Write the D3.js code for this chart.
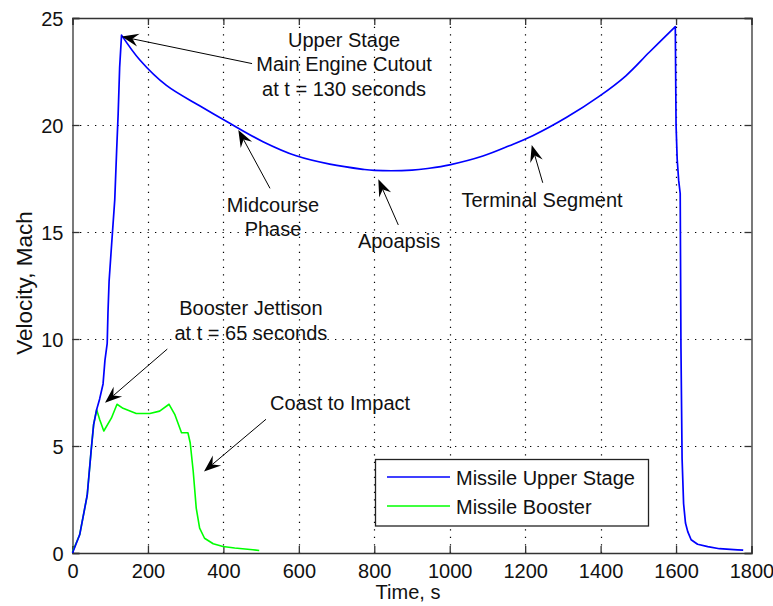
<!DOCTYPE html>
<html>
<head>
<meta charset="utf-8">
<script src="https://cdn.jsdelivr.net/npm/d3@7/dist/d3.min.js"></script>
<style>
  html, body { margin: 0; padding: 0; background: #fff; }
  svg { display: block; font-family: "Liberation Sans", Arial, Helvetica, sans-serif; }
</style>
</head>
<body>
<svg id="chart" width="773" height="606"></svg>
<script>
// ---------- data ----------
// Missile upper stage: powered ascent, coast arc (after cutout at 130 s), re-entry drop
const upperTime = [0, 19, 39, 50, 56, 64, 72, 81, 86, 92, 94, 97, 104, 112, 117, 121, 125, 130,
  178, 249, 337, 417, 505, 593, 682, 770, 800, 900, 946, 1000, 1088, 1158, 1220, 1309, 1397,
  1467, 1529, 1598, 1600, 1603, 1607, 1611, 1613, 1616, 1620, 1625, 1631, 1640, 1657, 1684,
  1715, 1763, 1778];
const upperVel = [0, 0.85, 2.7, 4.9, 6.0, 6.7, 7.2, 7.9, 9.0, 9.8, 11.2, 12.7, 14.5, 16.5, 18.8,
  20.5, 22.7, 24.2, 23.05, 21.85, 20.9, 20.08, 19.22, 18.56, 18.17, 17.93, 17.88, 17.89, 17.98,
  18.14, 18.55, 19.03, 19.5, 20.35, 21.35, 22.3, 23.4, 24.6, 20.0, 18.4, 17.4, 16.8, 9.6, 4.4,
  2.3, 1.4, 1.0, 0.62, 0.41, 0.3, 0.2, 0.15, 0.13];
const cutoutTime = 130;
const reentryTime = 1598;

const boosterTime = [0, 19, 39, 50, 56, 64, 72, 83, 103, 118, 134, 169, 205, 231, 256, 271, 289,
  306, 312, 320, 328, 337, 350, 373, 399, 430, 478, 495];
const boosterVel = [0.05, 0.85, 2.7, 4.9, 6.0, 6.7, 6.24, 5.7, 6.3, 6.95, 6.76, 6.52, 6.52, 6.63,
  6.95, 6.48, 5.62, 5.62, 5.15, 3.82, 2.1, 1.16, 0.69, 0.43, 0.3, 0.23, 0.15, 0.12];

const xTicks = [0, 200, 400, 600, 800, 1000, 1200, 1400, 1600, 1800];
const yTicks = [0, 5, 10, 15, 20, 25];

const seriesNames = ["Missile Upper Stage", "Missile Booster"];
const seriesColors = ["#0000ff", "#00ff00"];

// annotation: text lines, text anchor (t, v), arrow tail (t, v), arrow tip (t, v)
const annoText = [
  ["Upper Stage", "Main Engine Cutout", "at t = 130 seconds"],
  ["Midcourse", "Phase"],
  ["Apoapsis"],
  ["Terminal Segment"],
  ["Booster Jettison", "at t = 65 seconds"],
  ["Coast to Impact"]
];
const annoTextPos = [[720, 23.66], [531.5, 15.95], [865.6, 14.25], [1244.7, 16.18], [473, 11.12], [523.6, 6.68]];
const annoAlign = ["middle", "middle", "middle", "middle", "middle", "start"];
const annoTail = [[476, 22.87], [523.6, 17.04], [863.7, 15.33], [1246.6, 17.3], [251.3, 9.53], [513, 6.25]];
const annoTip = [[130.4, 24.13], [439.6, 19.77], [810.7, 17.46], [1217.4, 19.07], [86.2, 7.02], [348.6, 3.81]];

// ---------- layout ----------
const svg = d3.select("#chart");
const L = 72.5, R = 751.5, T = 18, B = 553;
const x = d3.scaleLinear().domain([0, 1800]).range([L, R]);
const y = d3.scaleLinear().domain([0, 25]).range([B, T]);
const FS = 20;

svg.append("rect").attr("width", 773).attr("height", 606).attr("fill", "#fff");

// grid
const grid = svg.append("g").attr("stroke", "#000").attr("stroke-width", 1.2)
  .attr("stroke-dasharray", "1.3,6.2").attr("fill", "none");
xTicks.filter(d => d > 0 && d < 1800).forEach(d => {
  grid.append("line").attr("x1", Math.round(x(d)) + 0.5).attr("x2", Math.round(x(d)) + 0.5)
    .attr("y1", B).attr("y2", T);
});
yTicks.filter(d => d > 0 && d < 25).forEach(d => {
  grid.append("line").attr("y1", Math.round(y(d)) + 0.5).attr("y2", Math.round(y(d)) + 0.5)
    .attr("x1", L).attr("x2", R);
});

// axes (inward ticks on all sides, MATLAB box)
const tickLen = 7;
const axB = svg.append("g").attr("transform", `translate(0,${B})`)
  .call(d3.axisBottom(x).tickValues(xTicks).tickSize(-tickLen).tickPadding(11).tickFormat(d3.format("d")));
const axT = svg.append("g").attr("transform", `translate(0,${T})`)
  .call(d3.axisTop(x).tickValues(xTicks).tickSize(-tickLen).tickFormat(""));
const axL = svg.append("g").attr("transform", `translate(${L},0)`)
  .call(d3.axisLeft(y).tickValues(yTicks).tickSize(-tickLen).tickPadding(9).tickFormat(d3.format("d")));
const axR = svg.append("g").attr("transform", `translate(${R},0)`)
  .call(d3.axisRight(y).tickValues(yTicks).tickSize(-tickLen).tickFormat(""));
[axB, axT, axL, axR].forEach(a => {
  a.select(".domain").attr("stroke", "#333").attr("stroke-width", 1.3);
  a.selectAll(".tick line").attr("stroke", "#333").attr("stroke-width", 1.3);
  a.selectAll("text").attr("font-size", FS).attr("fill", "#111")
    .attr("font-family", "'Liberation Sans', Arial, sans-serif");
});
axL.selectAll("text").attr("dy", "0.36em");

// axis labels
svg.append("text").attr("x", (L + R) / 2 - 4).attr("y", 599).attr("text-anchor", "middle")
  .attr("font-size", FS).attr("fill", "#111").text("Time, s");
svg.append("text").attr("transform", `translate(32,283) rotate(-90)`)
  .attr("text-anchor", "middle").attr("font-size", 22.5).attr("fill", "#111").text("Velocity, Mach");

// lines
const upper = upperTime.map((t, i) => [t, upperVel[i]]);
const booster = boosterTime.map((t, i) => [t, boosterVel[i]]);
const linLine = d3.line().x(d => x(d[0])).y(d => y(d[1]));
const smoothLine = d3.line().curve(d3.curveCatmullRom.alpha(0.5)).x(d => x(d[0])).y(d => y(d[1]));

svg.append("path").datum(booster).attr("d", linLine)
  .attr("fill", "none").attr("stroke", seriesColors[1]).attr("stroke-width", 1.6).attr("stroke-linejoin", "round");

const ascent = upper.filter(d => d[0] <= cutoutTime);
const coast = upper.filter(d => d[0] >= cutoutTime && d[0] <= reentryTime);
const reentry = upper.filter(d => d[0] >= reentryTime);
svg.append("path")
  .attr("d", linLine(ascent) + smoothLine(coast).replace(/^M/, "L") + linLine(reentry).replace(/^M/, "L"))
  .attr("fill", "none").attr("stroke", seriesColors[0]).attr("stroke-width", 1.7).attr("stroke-linejoin", "round");

// annotations
const ag = svg.append("g");
annoText.forEach((lines, i) => {
  const tx = x(annoTextPos[i][0]), ty = y(annoTextPos[i][1]);
  lines.forEach((s, k) => {
    ag.append("text").attr("x", tx).attr("y", ty + k * 24.5).attr("text-anchor", annoAlign[i])
      .attr("font-size", FS).attr("fill", "#111").text(s);
  });
  const x0 = x(annoTail[i][0]), y0 = y(annoTail[i][1]);
  const x1 = x(annoTip[i][0]), y1 = y(annoTip[i][1]);
  const dx = x1 - x0, dy = y1 - y0, len = Math.hypot(dx, dy);
  const ux = dx / len, uy = dy / len, px = -uy, py = ux;
  const hl = 17, hw = 6.5, notch = 11;
  ag.append("line").attr("x1", x0).attr("y1", y0)
    .attr("x2", x1 - ux * notch).attr("y2", y1 - uy * notch)
    .attr("stroke", "#000").attr("stroke-width", 1);
  const pts = [
    [x1, y1],
    [x1 - ux * hl + px * hw, y1 - uy * hl + py * hw],
    [x1 - ux * notch, y1 - uy * notch],
    [x1 - ux * hl - px * hw, y1 - uy * hl - py * hw]
  ];
  ag.append("path").attr("d", "M" + pts.map(p => p.join(",")).join("L") + "Z").attr("fill", "#000");
});

// legend
const lg = svg.append("g");
lg.append("rect").attr("x", 375.5).attr("y", 459.5).attr("width", 273).attr("height", 66.5)
  .attr("fill", "#fff").attr("stroke", "#222").attr("stroke-width", 1.3);
seriesNames.forEach((n, i) => {
  const yy = 477 + i * 29;
  lg.append("line").attr("x1", 387).attr("x2", 450).attr("y1", yy).attr("y2", yy)
    .attr("stroke", seriesColors[i]).attr("stroke-width", 1.6);
  lg.append("text").attr("x", 456).attr("y", yy + 7.5).attr("font-size", FS).attr("fill", "#111").text(n);
});
</script>
</body>
</html>
